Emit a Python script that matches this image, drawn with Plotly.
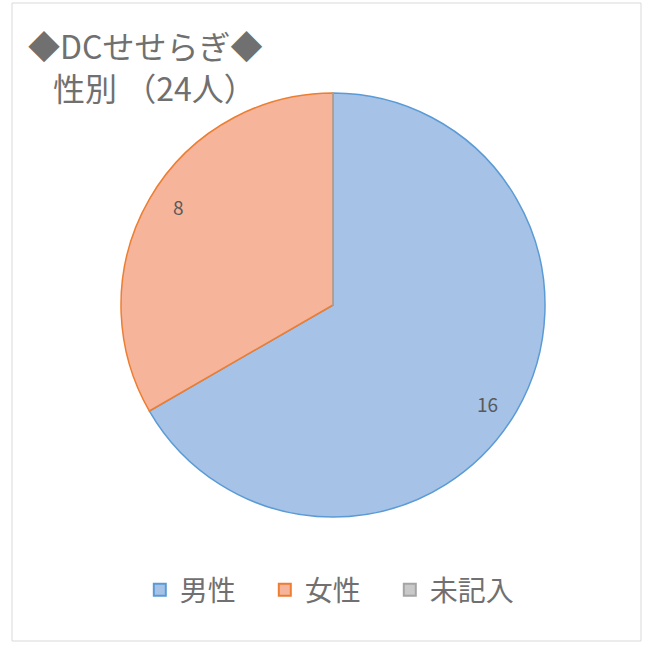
import math
import plotly.graph_objects as go

labels = ["男性", "女性", "未記入"]
values = [16, 8, 0]
fill_colors = ["#a6c2e7", "#f6b49a", "#c9c9c9"]
line_colors = ["#5b9bd5", "#ed7d31", "#a5a5a5"]
title_line1 = "◆DCせせらぎ◆"
title_line2 = "性別 （24人）"

W, H = 652, 653
cx, cy, r = 333, 305, 212  # pie centre / radius in pixels

dom_x = [(cx - r) / W, (cx + r) / W]
dom_y = [1 - (cy + r) / H, 1 - (cy - r) / H]

fig = go.Figure()
fig.add_trace(go.Pie(
    labels=labels,
    values=values,
    sort=False,
    direction="clockwise",
    rotation=0,
    textinfo="none",
    hoverinfo="label+value",
    marker=dict(colors=fill_colors, line=dict(color=line_colors, width=1.5)),
    domain=dict(x=dom_x, y=dom_y),
))

# data labels, placed along each slice's mid-angle
total = sum(values)
cum = 0
annotations = []
for lab, v in zip(labels, values):
    if v > 0:
        mid = (cum + v / 2) / total * 2 * math.pi + math.radians(2.5)
        px = cx + 0.865 * r * math.sin(mid)
        py = cy - 0.865 * r * math.cos(mid)
        annotations.append(dict(
            x=px / W, y=1 - py / H, xref="paper", yref="paper",
            xanchor="center", yanchor="middle",
            text=str(v), showarrow=False,
            font=dict(size=19, color="#595959", family="Noto Sans CJK JP"),
        ))
    cum += v

annotations.append(dict(
    x=26 / W, y=1 - 45 / H, xref="paper", yref="paper", xanchor="left", yanchor="middle",
    text=title_line1, showarrow=False,
    font=dict(size=32, color="#707070", family="Noto Sans CJK JP"),
))
annotations.append(dict(
    x=51 / W, y=1 - 87 / H, xref="paper", yref="paper", xanchor="left", yanchor="middle",
    text=title_line2, showarrow=False,
    font=dict(size=32, color="#707070", family="Noto Sans CJK JP"),
))

fig.update_layout(
    width=W, height=H,
    margin=dict(l=0, r=0, t=0, b=0),
    paper_bgcolor="white",
    plot_bgcolor="white",
    showlegend=True,
    legend=dict(
        orientation="h", x=0.502, xanchor="center", y=1 - 590 / H, yanchor="middle",
        font=dict(size=28, color="#707070", family="Noto Sans CJK JP"),
        itemsizing="constant", traceorder="normal",
        entrywidth=80, entrywidthmode="pixels",
    ),
    annotations=annotations,
    shapes=[dict(
        type="rect", xref="paper", yref="paper",
        x0=12 / W, x1=641 / W, y0=1 - 641 / H, y1=1 - 3 / H,
        line=dict(color="#d9d9d9", width=1), fillcolor="rgba(0,0,0,0)", layer="below",
    )],
)

fig.write_html("out.html", config={"displayModeBar": False},
               post_script="document.body.style.margin='0';")
